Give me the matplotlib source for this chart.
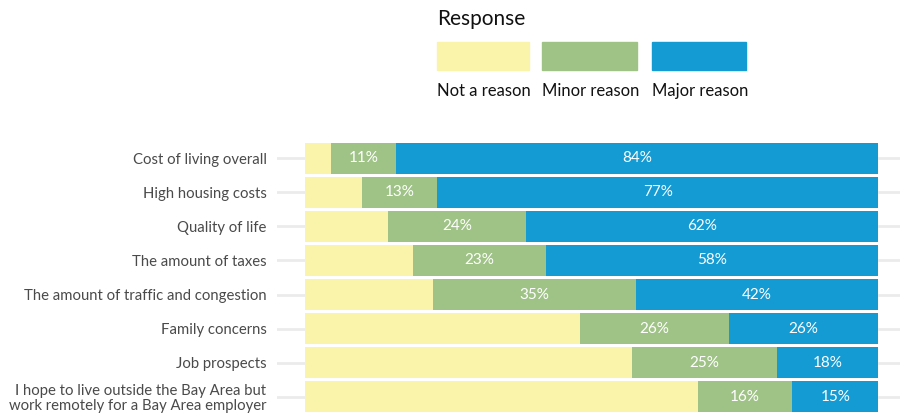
import numpy as np
import matplotlib.pyplot as plt
from matplotlib.patches import Rectangle

plt.rcParams['font.family'] = ['Lato', 'DejaVu Sans']

categories = [
    "Cost of living overall",
    "High housing costs",
    "Quality of life",
    "The amount of taxes",
    "The amount of traffic and congestion",
    "Family concerns",
    "Job prospects",
    "I hope to live outside the Bay Area but\nwork remotely for a Bay Area employer",
]
not_reason = [4.5, 10, 14.5, 18.8, 22.3, 48, 57, 68.5]
minor_reason = [11.3, 13, 24, 23.2, 35.4, 26, 25.3, 16.5]
major_reason = [84.2, 77, 61.5, 58, 42.3, 26, 17.7, 15]
minor_labels = ["11%", "13%", "24%", "23%", "35%", "26%", "25%", "16%"]
major_labels = ["84%", "77%", "62%", "58%", "42%", "26%", "18%", "15%"]

series_names = ["Not a reason", "Minor reason", "Major reason"]
colors = ["#f9f4aa", "#9fc386", "#149bd4"]

fig = plt.figure(figsize=(9, 4.17), dpi=100)
ax = fig.add_axes([277 / 900, 3 / 417, 623 / 900, 273 / 417])

y = np.arange(len(categories))
for yi in y:
    ax.axhline(yi, color="#ebebeb", lw=2, zorder=0)

left = np.zeros(len(categories))
all_labels = [None, minor_labels, major_labels]
for vals, col, labs in zip([not_reason, minor_reason, major_reason], colors, all_labels):
    vals = np.array(vals, dtype=float)
    ax.barh(y, vals, left=left, height=0.91, color=col, zorder=2)
    if labs is not None:
        for yi, l, v, t in zip(y, left, vals, labs):
            ax.text(l + v / 2, yi, t, ha="center", va="center",
                    color="white", fontsize=11, zorder=3)
    left += vals

ax.set_xlim(-4.9, 103.8)
ax.set_ylim(7.5, -0.5)
ax.set_yticks(y)
ax.set_yticklabels(categories, fontsize=10.7, color="#4a4a4a", linespacing=1.05)
ax.tick_params(axis="y", length=0, pad=7.5)
ax.set_xticks([])
for s in ax.spines.values():
    s.set_visible(False)

# legend
fig.text(437 / 900, 1 - 19 / 417, "Response", fontsize=15, color="#111111",
         ha="left", va="center")
leg_x = [437, 542, 652]
leg_w = [92, 95, 94]
for x0, w, col, name in zip(leg_x, leg_w, colors, series_names):
    fig.patches.append(Rectangle((x0 / 900, 1 - 70 / 417), w / 900, 28 / 417,
                                 transform=fig.transFigure, color=col))
    fig.text(x0 / 900, 1 - 91 / 417, name, fontsize=12, color="#111111",
             ha="left", va="center")

fig.savefig("out.png", dpi=100)
